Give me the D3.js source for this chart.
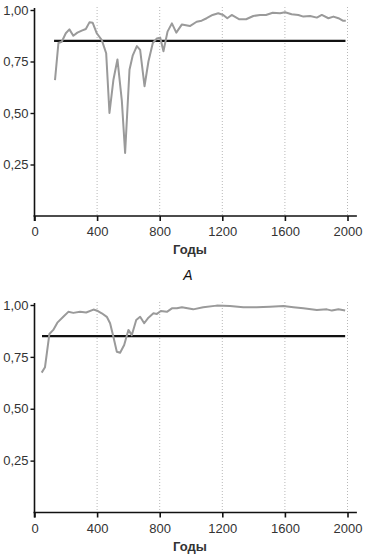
<!DOCTYPE html>
<html>
<head>
<meta charset="utf-8">
<script src="https://cdnjs.cloudflare.com/ajax/libs/d3/7.8.5/d3.min.js"></script>
<style>
  body { margin: 0; background: #fff; }
  svg { display: block; font-family: "Liberation Sans", Arial, sans-serif; }
</style>
</head>
<body>
<script>
var w = 366;
var h = 557;

// chart A (top)
var yearsA = [131, 153, 174, 200, 223, 248, 274, 302, 328, 351, 372, 398, 430, 458, 479, 504, 530, 558, 579, 607,
              628, 654, 675, 703, 728, 756, 782, 803, 824, 850, 878, 906, 942, 993, 1036, 1068, 1100, 1138, 1174, 1206,
              1232, 1260, 1309, 1352, 1398, 1441, 1479, 1522, 1569, 1601, 1643, 1686, 1718, 1761, 1804, 1836, 1878, 1910,
              1942, 1970, 1989];
var valuesA = [0.66, 0.84, 0.846, 0.887, 0.906, 0.875, 0.89, 0.90, 0.908, 0.94, 0.938, 0.887, 0.854, 0.79, 0.50, 0.66, 0.76, 0.56, 0.306, 0.71,
               0.78, 0.825, 0.806, 0.63, 0.75, 0.84, 0.862, 0.866, 0.80, 0.895, 0.935, 0.89, 0.93, 0.922, 0.943, 0.948, 0.96, 0.976, 0.984, 0.976,
               0.96, 0.976, 0.955, 0.955, 0.971, 0.976, 0.976, 0.987, 0.984, 0.989, 0.979, 0.976, 0.968, 0.971, 0.963, 0.976, 0.96, 0.968,
               0.96, 0.948, 0.948];

// chart B (bottom)
var yearsB = [46, 67, 95, 120, 146, 184, 216, 248, 291, 330, 377, 405, 430, 462, 483, 504, 526, 547, 573, 600,
              622, 650, 675, 701, 728, 760, 782, 807, 846, 878, 910, 942, 1014, 1078, 1164, 1249, 1334, 1419, 1505, 1590,
              1654, 1718, 1804, 1868, 1900, 1942, 1985];
var valuesB = [0.674, 0.70, 0.86, 0.88, 0.915, 0.943, 0.967, 0.962, 0.967, 0.964, 0.978, 0.971, 0.96, 0.943, 0.912, 0.847, 0.775, 0.77, 0.807, 0.88,
               0.855, 0.928, 0.943, 0.912, 0.939, 0.96, 0.957, 0.971, 0.967, 0.984, 0.984, 0.989, 0.979, 0.989, 0.997, 0.995, 0.989, 0.989, 0.992, 0.995,
               0.989, 0.984, 0.976, 0.979, 0.973, 0.979, 0.973];

var thresholdA = { from: 125, to: 1987, value: 0.85 };
var thresholdB = { from: 48, to: 1985, value: 0.85 };

var xTicks = [0, 400, 800, 1200, 1600, 2000];
var gridYears = [400, 800, 1200, 1600, 2000];
var yTicks = [0.25, 0.50, 0.75, 1.00];
var xTitle = "Годы";
var panelLabel = "А";

var svg = d3.select("body").append("svg")
            .attr("width", w)
            .attr("height", h);

function drawChart(years, values, thr, top, bottom)
{
  var x = d3.scaleLinear().domain([0, 2000]).range([34.5, 347.5]);
  var y = d3.scaleLinear().domain([0, 1]).range([bottom, top]);
  var g = svg.append("g");

  // dotted grid
  g.selectAll("line.grid").data(gridYears)
   .enter().append("line")
   .attr("class", "grid")
   .attr("x1", function(d) { return x(d); })
   .attr("x2", function(d) { return x(d); })
   .attr("y1", y(1) - 3)
   .attr("y2", y(0))
   .attr("stroke", "#b8b8b8")
   .attr("stroke-width", 1)
   .attr("stroke-dasharray", "1,2");

  // x axis
  var xa = g.append("g")
            .attr("transform", "translate(0," + y(0) + ")")
            .call(d3.axisBottom(x).tickValues(xTicks).tickSize(5).tickSizeOuter(0).tickFormat(d3.format("d")));
  xa.select(".domain").remove();
  xa.selectAll(".tick line").attr("stroke", "#111").attr("stroke-width", 1.6);
  xa.selectAll("text").attr("font-size", "13px").attr("fill", "#333").attr("dy", "0.95em");
  xa.append("line")
    .attr("x1", x(0) - 1).attr("x2", x(2060))
    .attr("stroke", "#111").attr("stroke-width", 1.6);

  // y axis
  var ya = g.append("g")
            .attr("transform", "translate(" + x(0) + ",0)")
            .call(d3.axisLeft(y).tickValues(yTicks).tickSize(4).tickSizeOuter(0)
                  .tickFormat(function(d) { return d3.format(".2f")(d).replace(".", ","); }));
  ya.select(".domain").remove();
  ya.selectAll(".tick line").attr("stroke", "#111").attr("stroke-width", 1.4);
  ya.selectAll("text").attr("font-size", "13px").attr("fill", "#333").attr("x", -6);
  ya.append("line")
    .attr("y1", y(0) + 5).attr("y2", y(1) - 2)
    .attr("stroke", "#111").attr("stroke-width", 1.6);

  // threshold line
  g.append("line")
   .attr("x1", x(thr.from)).attr("x2", x(thr.to))
   .attr("y1", y(thr.value)).attr("y2", y(thr.value))
   .attr("stroke", "#111")
   .attr("stroke-width", 2.2);

  // series
  var line = d3.line()
               .x(function(d, i) { return x(years[i]); })
               .y(function(d) { return y(d); });

  g.append("path")
   .datum(values)
   .attr("d", line)
   .attr("fill", "none")
   .attr("stroke", "#9a9a9a")
   .attr("stroke-width", 2)
   .attr("stroke-linejoin", "round");

  // axis title
  g.append("text")
   .attr("x", 190)
   .attr("y", y(0) + 38)
   .attr("text-anchor", "middle")
   .attr("font-size", "13px")
   .attr("font-weight", "bold")
   .attr("fill", "#333")
   .text(xTitle);
}

drawChart(yearsA, valuesA, thresholdA, 10, 216);
drawChart(yearsB, valuesB, thresholdB, 305, 512.5);

svg.append("text")
   .attr("x", 188)
   .attr("y", 280)
   .attr("text-anchor", "middle")
   .attr("font-size", "14px")
   .attr("font-style", "italic")
   .attr("fill", "#111")
   .text(panelLabel);
</script>
</body>
</html>
